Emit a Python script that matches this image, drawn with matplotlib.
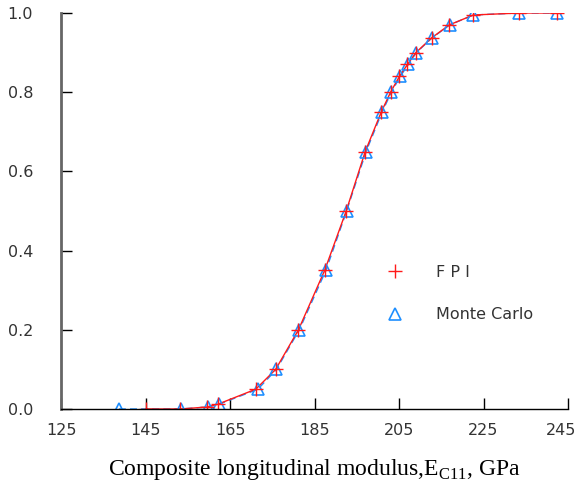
import numpy as np
import matplotlib.pyplot as plt
import matplotlib.transforms as mtransforms
from matplotlib.lines import Line2D

# CDF of composite longitudinal modulus
fpi_x = [145.1, 153.2, 159.5, 162.1, 171.1, 175.8, 181.2, 187.4, 192.5, 197.0,
         200.8, 203.0, 205.1, 207.0, 209.0, 212.7, 216.9, 222.6, 233.5, 242.3]
fpi_y = [0.0, 0.0, 0.005, 0.012, 0.05, 0.1, 0.2, 0.35, 0.5, 0.65,
         0.75, 0.8, 0.84, 0.87, 0.9, 0.937, 0.97, 0.995, 1.0, 1.0]

mc_x = [138.7, 153.3, 159.7, 162.4, 171.6, 176.0, 181.4, 187.7, 192.6, 197.2,
        201.0, 203.2, 205.3, 207.2, 209.1, 212.8, 217.0, 222.6, 233.5, 242.3]
mc_y = [0.0, 0.0, 0.005, 0.012, 0.05, 0.1, 0.2, 0.35, 0.5, 0.65,
        0.75, 0.8, 0.84, 0.87, 0.9, 0.937, 0.97, 0.995, 1.0, 1.0]

xticks = [125, 145, 165, 185, 205, 225, 245]
yticks = [0.0, 0.2, 0.4, 0.6, 0.8, 1.0]

red = "#ff1a1a"
blue = "#1e8fff"
grey = "#333333"

fig = plt.figure(figsize=(5.79, 4.91), dpi=100)
ax = fig.add_axes([0.1054, 0.167, 0.8756, 0.8065])

ax.plot(mc_x, mc_y, color=blue, lw=1.0, ls=(0, (5, 3)))
ax.plot(fpi_x, fpi_y, color=red, lw=1.0)
ax.plot(mc_x, mc_y, ls="none", marker="^", ms=9, mfc="none", mec=blue, mew=1.2)
ax.plot(fpi_x, fpi_y, ls="none", marker="+", ms=10, mec=red, mew=1.0)

ax.set_xlim(125, 245)
ax.set_ylim(0, 1)
ax.set_xticks(xticks)
ax.set_yticks(yticks)
ax.set_yticklabels(["%.1f" % v for v in yticks])

for s in ["top", "right"]:
    ax.spines[s].set_visible(False)
ax.spines["left"].set_color("#666666")
ax.spines["left"].set_linewidth(2.0)
ax.spines["bottom"].set_color("black")
ax.spines["bottom"].set_linewidth(1.0)
ax.tick_params(direction="in", length=8, width=1.0, color="black",
               labelsize=11.5, labelcolor=grey)
ax.tick_params(axis="x", pad=10)
ax.tick_params(axis="y", pad=20)

# last x label sits at the figure edge, nudge it in a little
last = ax.get_xticklabels()[-1]
last.set_transform(last.get_transform() +
                   mtransforms.ScaledTranslation(-5 / 72, 0, fig.dpi_scale_trans))

handles = [Line2D([], [], ls="none", marker="+", ms=10, mec=red, mew=1.0),
           Line2D([], [], ls="none", marker="^", ms=9, mfc="none", mec=blue, mew=1.2)]
ax.legend(handles, ["F P I", "Monte Carlo"], loc="upper left",
          bbox_to_anchor=(0.598, 0.4), frameon=False, fontsize=11.5,
          labelcolor=grey, handletextpad=1.6, labelspacing=1.7)

ax.set_xlabel("Composite longitudinal modulus,E$_{\\mathregular{C11}}$, GPa",
              family="Liberation Serif", fontsize=17, labelpad=14)

fig.savefig("out.png", dpi=100)
